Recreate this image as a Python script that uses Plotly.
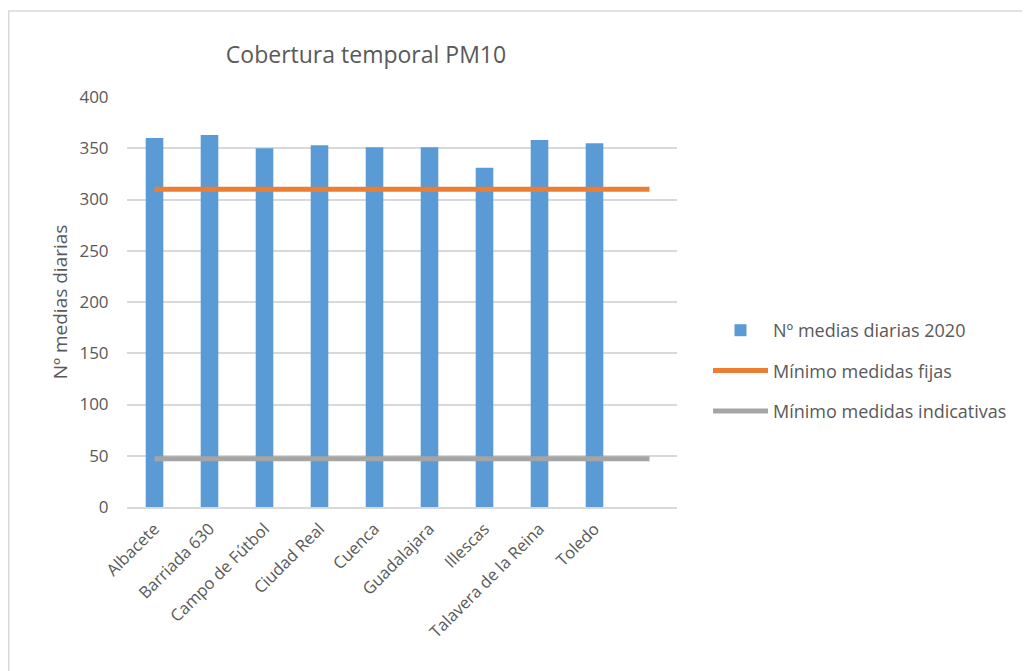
import plotly.graph_objects as go

categories = ["Albacete", "Barriada 630", "Campo de Fútbol", "Ciudad Real", "Cuenca",
              "Guadalajara", "Illescas", "Talavera de la Reina", "Toledo"]
medias_2020 = [360, 363, 350, 353, 351, 351, 331, 358, 355]
line_categories = categories + [" "]
minimo_fijas = [310] * 10
minimo_indicativas = [47] * 10

font_family = "Open Sans, Liberation Sans, sans-serif"
text_color = "#595959"

# page body adds an 8px offset
OFF = 8
L, T, PW, PH = 127, 97, 550, 410

fig = go.Figure()
fig.add_trace(go.Bar(x=categories, y=medias_2020, name="Nº medias diarias 2020",
                     marker=dict(color="#5B9BD5", line=dict(width=0)),
                     legendgroup="a"))
fig.add_trace(go.Scatter(x=line_categories, y=minimo_fijas, mode="lines",
                         name="Mínimo medidas fijas",
                         line=dict(color="#ED7D31", width=5), legendgroup="b"))
fig.add_trace(go.Scatter(x=line_categories, y=minimo_indicativas, mode="lines",
                         name="Mínimo medidas indicativas",
                         line=dict(color="#A5A5A5", width=5), legendgroup="c"))

W, H = 1030 - OFF, 671 - OFF
fig.update_layout(
    width=W, height=H,
    margin=dict(l=L - OFF, r=W - (L - OFF) - PW, t=T - OFF, b=H - (T - OFF) - PH),
    paper_bgcolor="white", plot_bgcolor="white",
    font=dict(family=font_family, color=text_color, size=17),
    title=dict(text="Cobertura temporal PM10", x=(366 - OFF) / W, xanchor="center",
               y=1 - (55 - OFF) / H, yanchor="middle",
               font=dict(size=23, color=text_color, family=font_family)),
    bargap=0.68,
    showlegend=True,
    legend=dict(x=(708 - L) / PW, xanchor="left", y=(507 - 371) / PH, yanchor="middle",
                font=dict(size=18, color=text_color),
                itemwidth=55,
                tracegroupgap=14, traceorder="grouped",
                bgcolor="rgba(0,0,0,0)"),
    hovermode=False,
    shapes=[dict(type="rect", xref="paper", yref="paper",
                 x0=(OFF + 0.75 - L) / PW, x1=(1040 - L) / PW,
                 y0=(507 - 690) / PH, y1=(507 - 11) / PH,
                 line=dict(color="#D9D9D9", width=1.5), fillcolor="rgba(0,0,0,0)",
                 layer="below")],
)
fig.update_xaxes(type="category", categoryorder="array", categoryarray=line_categories,
                 range=[-0.5, 9.5], tickangle=-45, showgrid=False,
                 showline=True, linecolor="#D9D9D9", linewidth=1.5,
                 ticks="outside", ticklen=4, tickcolor="rgba(0,0,0,0)",
                 tickfont=dict(size=16.5, color=text_color))
fig.update_yaxes(range=[0, 400], dtick=50, showgrid=True, gridcolor="#D9D9D9",
                 gridwidth=1.5, zeroline=False, showline=False,
                 ticks="outside", ticklen=14, tickcolor="rgba(0,0,0,0)",
                 tickfont=dict(size=17, color=text_color),
                 title=dict(text="Nº medias diarias", standoff=6,
                            font=dict(size=19, color=text_color)))

fig.write_html("out.html")
